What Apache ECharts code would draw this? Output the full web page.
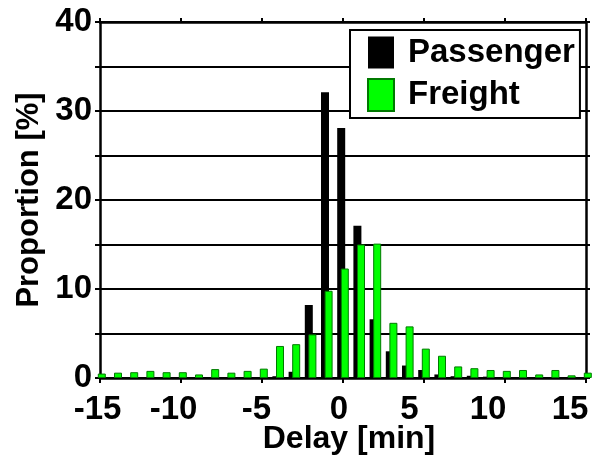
<!DOCTYPE html>
<html>
<head>
<meta charset="utf-8">
<script src="https://cdn.jsdelivr.net/npm/echarts@6/dist/echarts.min.js"></script>
<style>html,body{margin:0;padding:0;background:#fff;}#c{width:603px;height:456px;}</style>
</head>
<body>
<div id="c"></div>
<script>
const delays = [-15,-14,-13,-12,-11,-10,-9,-8,-7,-6,-5,-4,-3,-2,-1,0,1,2,3,4,5,6,7,8,9,10,11,12,13,14,15];
const passenger = [0,0,0,0,0,0,0,0,0,0,0.1,0.2,0.7,8.2,32.1,28.1,17.1,6.6,3.0,1.4,0.9,0.4,0.2,0.25,0.15,0.1,0.1,0.1,0.1,0.1,0.1];
const freight = [0.5,0.6,0.65,0.8,0.65,0.65,0.4,1.0,0.6,0.8,1.05,3.6,3.8,4.9,9.8,12.3,15.0,15.1,6.2,5.8,3.3,2.5,1.3,1.1,0.9,0.8,0.9,0.4,0.9,0.3,0.6];
const seriesNames = ['Passenger','Freight'];
const yTickLabels = [0,10,20,30,40];
const xTickLabels = [-15,-10,-5,0,5,10,15];

// label nudges (style only): extra right padding shifts the centred label left
const xLabelPad = {'-15':29, '-10':34, '-5':32, '0':5, '5':15, '10':11, '15':8};

const FONT = 'Liberation Sans, Arial, sans-serif';
const chart = echarts.init(document.getElementById('c'), null, {renderer:'canvas'});
const axisLine = {show:true, onZero:false, lineStyle:{color:'#000', width:2.5}};
const rich = {};
Object.keys(xLabelPad).forEach((k,i)=>{
  rich['p'+i] = {fontFamily:FONT, fontSize:33, fontWeight:'bold', color:'#000', padding:[0,xLabelPad[k],0,0]};
});
chart.setOption({
  animation:false,
  backgroundColor:'#fff',
  grid:{left:100, right:17, top:22, bottom:78, containLabel:false, outerBoundsMode:'none'},
  legend:{
    orient:'vertical', left:350, top:30,
    backgroundColor:'#fff', borderColor:'#000', borderWidth:2, borderRadius:0,
    padding:[6,5,6,17], itemGap:9, itemWidth:26, itemHeight:32,
    icon:'rect',
    textStyle:{fontFamily:FONT, fontSize:33, fontWeight:'bold', color:'#000', padding:[0,0,0,9]},
    data:seriesNames
  },
  xAxis:[{
    type:'value', min:-15, max:15, interval:5, position:'bottom',
    axisLine:axisLine,
    axisTick:{show:true, length:5, lineStyle:{color:'#000', width:2}},
    axisLabel:{fontFamily:FONT, fontSize:33, fontWeight:'bold', color:'#000', margin:15,
      formatter:v=>{
        const i = xTickLabels.indexOf(v);
        return i>=0 ? '{p'+i+'|'+v+'}' : '';
      }, rich:rich},
    splitLine:{show:false},
    name:'Delay [min]', nameLocation:'middle', nameGap:45, nameMoveOverlap:false,
    nameTextStyle:{fontFamily:FONT, fontSize:32, fontWeight:'bold', color:'#000', padding:[0,0,0,12]}
  },{
    type:'value', min:-15, max:15, interval:5, position:'top',
    axisLine:axisLine, axisTick:{show:true, length:4, lineStyle:{color:'#000', width:2}},
    axisLabel:{show:false}, splitLine:{show:false}
  }],
  yAxis:[{
    type:'value', min:0, max:40, interval:5, position:'left',
    axisLine:axisLine,
    axisTick:{show:true, length:5, lineStyle:{color:'#000', width:2}},
    axisLabel:{fontFamily:FONT, fontSize:33, fontWeight:'bold', color:'#000', margin:8,
      formatter:v=> yTickLabels.includes(v)? String(v):''},
    splitLine:{show:true, lineStyle:{color:'#000', width:2}},
    name:'Proportion [%]', nameLocation:'middle', nameGap:55, nameMoveOverlap:false,
    nameTextStyle:{fontFamily:FONT, fontSize:31, fontWeight:'bold', color:'#000'}
  },{
    type:'value', min:0, max:40, interval:5, position:'right',
    axisLine:axisLine, axisTick:{show:true, length:4, lineStyle:{color:'#000', width:2}},
    axisLabel:{show:false}, splitLine:{show:false}
  }],
  series:[{
    name:seriesNames[0], type:'bar', xAxisIndex:0, yAxisIndex:0,
    barWidth:8, barGap:'-55%',
    itemStyle:{color:'#000'},
    data:delays.map((d,i)=>[d,passenger[i]])
  },{
    name:seriesNames[1], type:'bar', xAxisIndex:0, yAxisIndex:0,
    barWidth:8, barGap:'-55%',
    itemStyle:{color:'#00ff00', borderColor:'#007a00', borderWidth:1},
    data:delays.map((d,i)=>[d,freight[i]])
  }]
});
</script>
</body>
</html>
